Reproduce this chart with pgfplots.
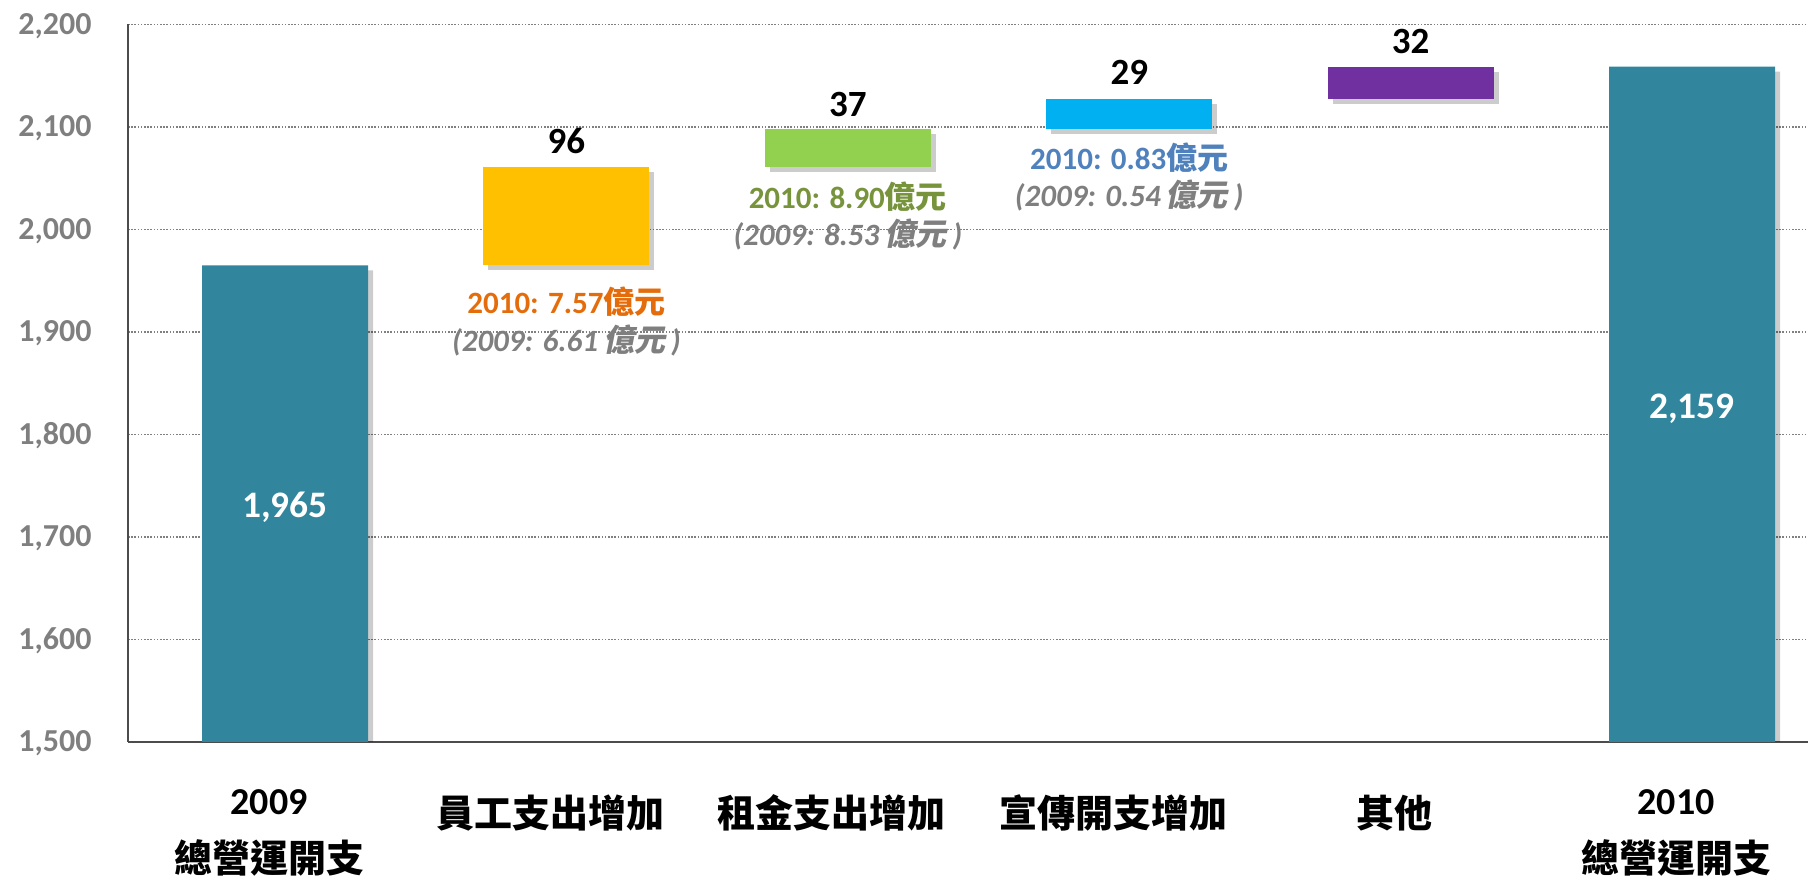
\documentclass[border=0pt]{standalone}
\usepackage{fontspec}
\setmainfont{Carlito}
\newfontfamily\cjk{Noto Sans CJK TC}
\newfontfamily\cjksl{Noto Sans CJK TC}[FakeSlant=0.2]
\usepackage{pgfplots}
\usepackage{pgfplotstable}
\pgfplotsset{compat=1.18}
\usetikzlibrary{shadows}
\definecolor{barteal}{HTML}{31859C}
\definecolor{baryellow}{HTML}{FFC000}
\definecolor{bargreen}{HTML}{92D050}
\definecolor{barblue}{HTML}{00B0F0}
\definecolor{barpurple}{HTML}{7030A0}
\definecolor{txtorange}{HTML}{E46C0A}
\definecolor{txtgreen}{HTML}{77933C}
\definecolor{txtblue}{HTML}{4F81BD}
\definecolor{txtgray}{HTML}{7F7F7F}
\newcommand\yy{\smash{\cjk\bfseries 億元}}
\newcommand\yysl{\smash{\cjksl\bfseries 億元}\kern3pt}
\newcommand\twoline[2]{\vtop{\baselineskip=29pt\halign{\hfil##\hfil\cr#1\cr#2\cr}}}
\tikzset{barshadow/.style={drop shadow={shadow xshift=2.5pt, shadow yshift=-2.5pt, fill=black, opacity=0.2}}}

% waterfall: invisible base + visible segments
\pgfplotstableread{
x base total staff rent promo other
0 0    1965  0  0  0  0
1 1965 0     96 0  0  0
2 2061 0     0  37 0  0
3 2098 0     0  0  29 0
4 2127 0     0  0  0  32
5 0    2159  0  0  0  0
}\wf

\begin{document}
\begin{tikzpicture}
\begin{axis}[
  at={(64pt,68.5pt)}, anchor=south west,
  scale only axis, width=840pt, height=358.75pt,
  xmin=-0.558, xmax=5.412, ymin=1500, ymax=2200,
  enlargelimits=false,
  ybar stacked, bar width=83pt,
  axis x line*=bottom, axis y line*=left,
  axis line style={draw=black!70, line width=1pt},
  ytick={1500,1600,...,2200},
  scaled y ticks=false,
  /pgf/number format/1000 sep={,},
  /pgf/number format/assume math mode=true,
  xtick={0,...,5},
  xticklabels={
    {\twoline{2009}{\cjk\bfseries 總營運開支}},
    {\raisebox{-6.5pt}{\cjk\bfseries 員工支出增加}},
    {\raisebox{-6.5pt}{\cjk\bfseries 租金支出增加}},
    {\raisebox{-6.5pt}{\cjk\bfseries 宣傳開支增加}},
    {\raisebox{-6.5pt}{\cjk\bfseries 其他}},
    {\twoline{2010}{\cjk\bfseries 總營運開支}}},
  major tick length=0pt,
  ymajorgrids,
  major grid style={draw=black!50, line width=0.8pt, dash pattern=on 0.8pt off 0.8pt},
  yticklabel style={font=\fontsize{16pt}{18pt}\selectfont\bfseries, text=txtgray,
    inner sep=0pt, anchor=east, xshift=-18pt, text height=10pt, text depth=0pt},
  xticklabel style={font=\fontsize{19pt}{23pt}\selectfont\bfseries, text=black,
    anchor=base, inner sep=0pt, xshift=-8pt, yshift=-36.5pt},
]
\addplot[fill=none, draw=none, forget plot] table[x=x, y=base]{\wf};
\addplot[fill=barteal, draw=none, barshadow] table[x=x, y=total]{\wf};
\addplot[fill=baryellow, draw=none, barshadow] table[x=x, y=staff]{\wf};
\addplot[fill=bargreen, draw=none, barshadow] table[x=x, y=rent]{\wf};
\addplot[fill=barblue, draw=none, barshadow] table[x=x, y=promo]{\wf};
\addplot[fill=barpurple, draw=none, barshadow] table[x=x, y=other]{\wf};

\coordinate (v0) at (axis cs:0,1719);
\coordinate (v5) at (axis cs:5,1816);
\coordinate (v1) at (axis cs:1,2073.7);
\coordinate (v2) at (axis cs:2,2110);
\coordinate (v3) at (axis cs:3,2141.7);
\coordinate (v4) at (axis cs:4,2171.9);
\coordinate (a1) at (axis cs:1,1918);
\coordinate (b1) at (axis cs:1,1880.8);
\coordinate (a2) at (axis cs:2,2020.7);
\coordinate (b2) at (axis cs:2,1984.2);
\coordinate (a3) at (axis cs:3,2058.7);
\coordinate (b3) at (axis cs:3,2022.2);
\end{axis}

% value labels
\begin{scope}[every node/.style={anchor=base, inner sep=0pt}]
\node[text=white, font=\fontsize{18.7pt}{22pt}\selectfont\bfseries] at (v0) {1,965};
\node[text=white, font=\fontsize{18.7pt}{22pt}\selectfont\bfseries] at (v5) {2,159};
\node[font=\fontsize{18.5pt}{22pt}\selectfont\bfseries] at (v1) {96};
\node[font=\fontsize{18.5pt}{22pt}\selectfont\bfseries] at (v2) {37};
\node[font=\fontsize{18.5pt}{22pt}\selectfont\bfseries] at (v3) {29};
\node[font=\fontsize{18.5pt}{22pt}\selectfont\bfseries] at (v4) {32};
% annotations
\node[text=txtorange, font=\fontsize{15.5pt}{18pt}\selectfont\bfseries] at (a1) {2010: 7.57\yy};
\node[text=txtgray, font=\fontsize{15.5pt}{18pt}\selectfont\bfseries\itshape] at (b1) {(2009: 6.61\,\yysl)};
\node[text=txtgreen, font=\fontsize{15.5pt}{18pt}\selectfont\bfseries] at (a2) {2010: 8.90\yy};
\node[text=txtgray, font=\fontsize{15.5pt}{18pt}\selectfont\bfseries\itshape] at (b2) {(2009: 8.53\,\yysl)};
\node[text=txtblue, font=\fontsize{15.5pt}{18pt}\selectfont\bfseries] at (a3) {2010: 0.83\yy};
\node[text=txtgray, font=\fontsize{15.5pt}{18pt}\selectfont\bfseries\itshape] at (b3) {(2009: 0.54\,\yysl)};
\end{scope}
\pgfresetboundingbox
\path[use as bounding box] (0,0) rectangle (904pt,439.5pt);
\end{tikzpicture}
\end{document}
